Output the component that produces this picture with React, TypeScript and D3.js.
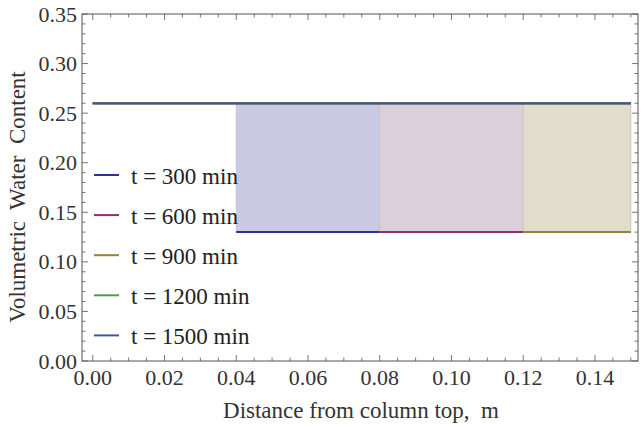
import React from "react";
import * as d3 from "d3";

// ---- data ----
const seriesLabels = ["t = 300 min", "t = 600 min", "t = 900 min", "t = 1200 min", "t = 1500 min"];
const upperContent = [0.26, 0.26, 0.26, 0.26, 0.26];
const lowerContent = [0.13, 0.13, 0.13, 0.13, 0.13];
const bandStart = [0.04, 0.08, 0.12, 0.16, 0.2];
const bandEnd = [0.08, 0.12, 0.16, 0.2, 0.24];
const xMaxData = 0.15;
const xTicks = [0, 0.02, 0.04, 0.06, 0.08, 0.1, 0.12, 0.14];
const yTicks = [0, 0.05, 0.1, 0.15, 0.2, 0.25, 0.3, 0.35];

const colors = ["#2f3193", "#8e2f6e", "#958338", "#4f9e4f", "#3c58a0"];
const fills = ["#cbcae3", "#dbcfd9", "#e0ddcc", "#d0e6d3", "#cdd6e8"];
const edges = ["#c4c3de", "#cdbfcb", "#cdc9bb", "#c0d8c4", "#bfc9e0"];

const W = 641, H = 427;
const L = 82, R = 638, T = 14, B = 361;
const FONT = "Liberation Serif";

export default function App() {
  const x = d3.scaleLinear().domain([-0.003, 0.152]).range([L, R]);
  const y = d3.scaleLinear().domain([0, 0.35]).range([B, T]);
  const xMinor = d3.range(0, 0.1525, 0.005);
  const yMinor = d3.range(0, 0.3501, 0.01);
  const line = d3.line<[number, number]>().x(d => x(d[0])).y(d => y(d[1]));
  const txt = { fontFamily: FONT };

  return (
    <svg width={W} height={H} style={{ position: "absolute", left: 0, top: 0, background: "#fff" }}>
      {/* fills */}
      {seriesLabels.map((s, i) => {
        const a = bandStart[i], b = Math.min(bandEnd[i], xMaxData);
        if (a >= xMaxData) return null;
        return (
          <rect key={"f" + i} x={x(a)} y={y(upperContent[i])} width={x(b) - x(a)}
            height={y(lowerContent[i]) - y(upperContent[i])} fill={fills[i]} stroke={edges[i]} strokeWidth={1} />
        );
      })}
      {/* lower segments */}
      {seriesLabels.map((s, i) => {
        const a = bandStart[i], b = Math.min(bandEnd[i], xMaxData);
        if (a >= xMaxData) return null;
        return <path key={"l" + i} d={line([[a, lowerContent[i]], [b, lowerContent[i]]]) || ""} stroke={colors[i]} strokeWidth={2} fill="none" />;
      })}
      {/* upper lines */}
      {seriesLabels.map((s, i) => (
        <path key={"u" + i} d={line([[0, upperContent[i]], [xMaxData, upperContent[i]]]) || ""} stroke={colors[i]} strokeWidth={2} fill="none" />
      ))}
      {/* frame */}
      <rect x={L} y={T} width={R - L} height={B - T} fill="none" stroke="#555" strokeWidth={1} />
      {/* ticks */}
      {xMinor.map((v, i) => {
        const major = i % 4 === 0;
        const len = major ? 6 : 3.5;
        const px = x(v);
        return (
          <g key={"xt" + i} stroke="#555" strokeWidth={0.8}>
            <line x1={px} x2={px} y1={B} y2={B - len} />
            <line x1={px} x2={px} y1={T} y2={T + len} />
          </g>
        );
      })}
      {yMinor.map((v, i) => {
        const major = i % 5 === 0;
        const len = major ? 6 : 3.5;
        const py = y(v);
        return (
          <g key={"yt" + i} stroke="#555" strokeWidth={0.8}>
            <line x1={L} x2={L + len} y1={py} y2={py} />
            <line x1={R} x2={R - len} y1={py} y2={py} />
          </g>
        );
      })}
      {/* tick labels */}
      {xTicks.map((v, i) => (
        <text key={"xl" + i} x={x(v)} y={B + 24} textAnchor="middle" style={txt} fontSize={22} fill="#333">
          {v.toFixed(2)}
        </text>
      ))}
      {yTicks.map((v, i) => (
        <text key={"yl" + i} x={L - 5} y={y(v) + 7.5} textAnchor="end" style={txt} fontSize={22} fill="#333">
          {v.toFixed(2)}
        </text>
      ))}
      {/* axis titles */}
      <text x={361} y={418} textAnchor="middle" style={{ ...txt, whiteSpace: "pre" }} fontSize={23} fill="#333">
        {"Distance from column top,  m"}
      </text>
      <text transform={`translate(25, 197) rotate(-90)`} textAnchor="middle" style={{ ...txt, whiteSpace: "pre" }} fontSize={23} fill="#333">
        {"Volumetric  Water  Content"}
      </text>
      {/* legend */}
      {seriesLabels.map((s, i) => {
        const cy = 175 + i * 40.1;
        return (
          <g key={"lg" + i}>
            <line x1={94} x2={119} y1={cy} y2={cy} stroke={colors[i]} strokeWidth={2} />
            <text x={131} y={cy + 8.5} style={txt} fontSize={23} fill="#222">{s}</text>
          </g>
        );
      })}
    </svg>
  );
}
